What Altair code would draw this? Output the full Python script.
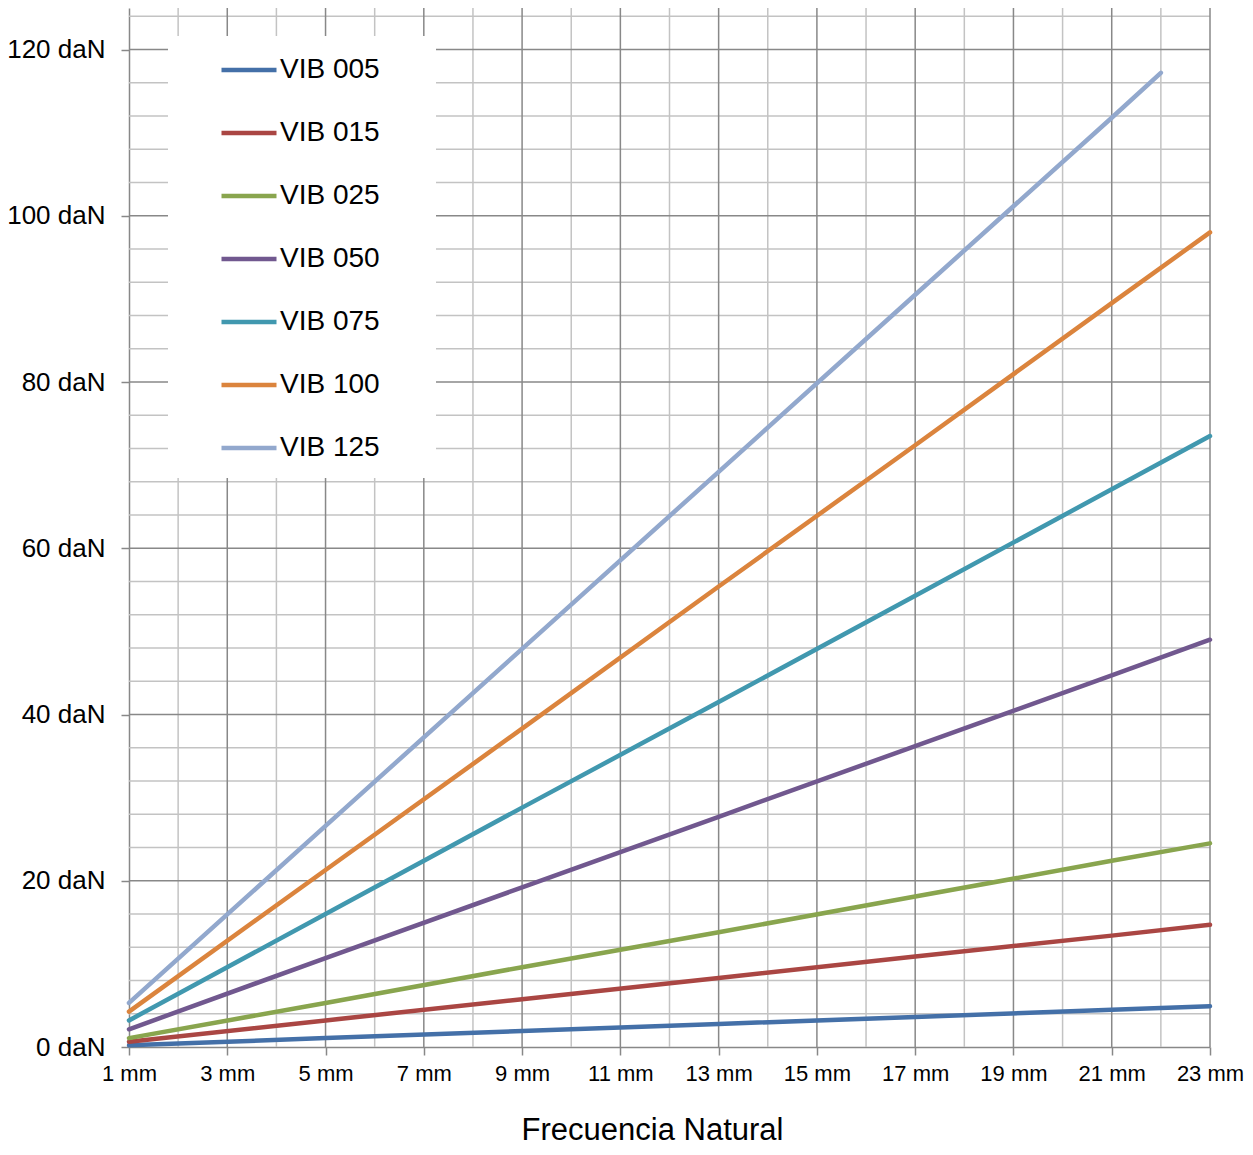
import altair as alt
import pandas as pd

# ---- data ----
series_names = ["VIB 005", "VIB 015", "VIB 025", "VIB 050", "VIB 075", "VIB 100", "VIB 125"]
series_colors = ["#4470A8", "#AA4643", "#89A54E", "#71588F", "#4198AF", "#DB843D", "#92A8CD"]

x_mm = [1, 5, 9, 13, 17, 21, 23]
x_mm_125 = [1, 5, 9, 13, 17, 21, 22]

vib005 = [0.21, 1.07, 1.92, 2.77, 3.62, 4.47, 4.9]
vib015 = [0.64, 3.2, 5.75, 8.3, 10.9, 13.4, 14.7]
vib025 = [1.07, 5.3, 9.6, 13.8, 18.1, 22.4, 24.5]
vib050 = [2.13, 10.7, 19.2, 27.7, 36.2, 44.7, 49.0]
vib075 = [3.2, 16.0, 28.8, 41.5, 54.3, 67.1, 73.5]
vib100 = [4.26, 21.3, 38.3, 55.4, 72.4, 89.5, 98.0]
vib125 = [5.3, 26.6, 47.9, 69.2, 90.5, 111.8, 117.2]

x_ticks = [1, 3, 5, 7, 9, 11, 13, 15, 17, 19, 21, 23]
x_grid_major = [3, 5, 7, 9, 11, 13, 15, 17, 19, 21, 23]
x_grid_minor = [2, 4, 6, 8, 10, 12, 14, 16, 18, 20, 22]
y_ticks = [0, 20, 40, 60, 80, 100, 120]
y_grid_major = [20, 40, 60, 80, 100, 120]
y_grid_minor = [4, 8, 12, 16, 24, 28, 32, 36, 44, 48, 52, 56, 64, 68, 72, 76,
                84, 88, 92, 96, 104, 108, 112, 116, 124]

rows = []
for name, xs, ys in zip(
    series_names,
    [x_mm, x_mm, x_mm, x_mm, x_mm, x_mm, x_mm_125],
    [vib005, vib015, vib025, vib050, vib075, vib100, vib125],
):
    for xv, yv in zip(xs, ys):
        rows.append({"serie": name, "mm": xv, "daN": yv})
df = pd.DataFrame(rows)

FONT = "Liberation Sans"
DARK = "#888888"
LIGHT = "#C3C3C3"

xscale = alt.Scale(domain=[1, 23], nice=False, zero=False)
yscale = alt.Scale(domain=[0, 125], nice=False, zero=True)

x_axis = alt.Axis(
    values=x_ticks,
    labelExpr="datum.value + ' mm'",
    grid=False,
    domainColor=DARK,
    domainWidth=1.5,
    tickColor=DARK,
    tickWidth=1.5,
    tickSize=8,
    labelFontSize=22,
    labelColor="black",
    labelPadding=8,
    labelFlush=False,
    labelOverlap=False,
    title="Frecuencia Natural",
    titleFontSize=31,
    titleFontWeight="normal",
    titleColor="black",
    titleX=523,
    titleY=92,
    titleBaseline="alphabetic",
)
y_axis = alt.Axis(
    values=y_ticks,
    labelExpr="datum.value + ' daN'",
    grid=False,
    domainColor=DARK,
    domainWidth=1.5,
    tickColor=DARK,
    tickWidth=1.5,
    tickSize=8,
    labelFontSize=26,
    labelColor="black",
    labelPadding=16,
    labelFlush=False,
    labelOverlap=False,
    title=None,
)

vminor = alt.Chart(pd.DataFrame({"v": x_grid_minor})).mark_rule(
    color=LIGHT, strokeWidth=1.5
).encode(x=alt.X("v:Q", scale=xscale, axis=x_axis))
hminor = alt.Chart(pd.DataFrame({"v": y_grid_minor})).mark_rule(
    color=LIGHT, strokeWidth=1.5
).encode(y=alt.Y("v:Q", scale=yscale, axis=y_axis))
vmajor = alt.Chart(pd.DataFrame({"v": x_grid_major})).mark_rule(
    color=DARK, strokeWidth=1.5
).encode(x=alt.X("v:Q", scale=xscale, axis=x_axis))
hmajor = alt.Chart(pd.DataFrame({"v": y_grid_major})).mark_rule(
    color=DARK, strokeWidth=1.5
).encode(y=alt.Y("v:Q", scale=yscale, axis=y_axis))

legend_bg = alt.Chart(pd.DataFrame({"a": [0]})).mark_rect(color="white").encode(
    x=alt.value(39), x2=alt.value(307), y=alt.value(28), y2=alt.value(470)
)

lines = alt.Chart(df).mark_line(strokeWidth=4.5, strokeCap="round").encode(
    x=alt.X("mm:Q", scale=xscale, axis=x_axis),
    y=alt.Y("daN:Q", scale=yscale, axis=y_axis),
    color=alt.Color(
        "serie:N",
        scale=alt.Scale(domain=series_names, range=series_colors),
        legend=alt.Legend(
            orient="none",
            legendX=90,
            legendY=32,
            title=None,
            symbolType="stroke",
            symbolSize=3025,
            symbolStrokeWidth=4.5,
            labelFontSize=28,
            labelColor="black",
            labelOffset=1,
            rowPadding=19,
            padding=0,
        ),
    ),
    order=alt.Order("mm:Q"),
)

chart = (
    alt.layer(vminor, hminor, vmajor, hmajor, legend_bg, lines)
    .properties(
        width=1081,
        height=1039,
        padding={"left": 121, "top": 0, "right": 35, "bottom": 100},
        autosize="none",
    )
    .configure(font=FONT)
    .configure_view(stroke=None)
)

chart.save("out.html", embed_options={"renderer": "svg", "actions": False})
